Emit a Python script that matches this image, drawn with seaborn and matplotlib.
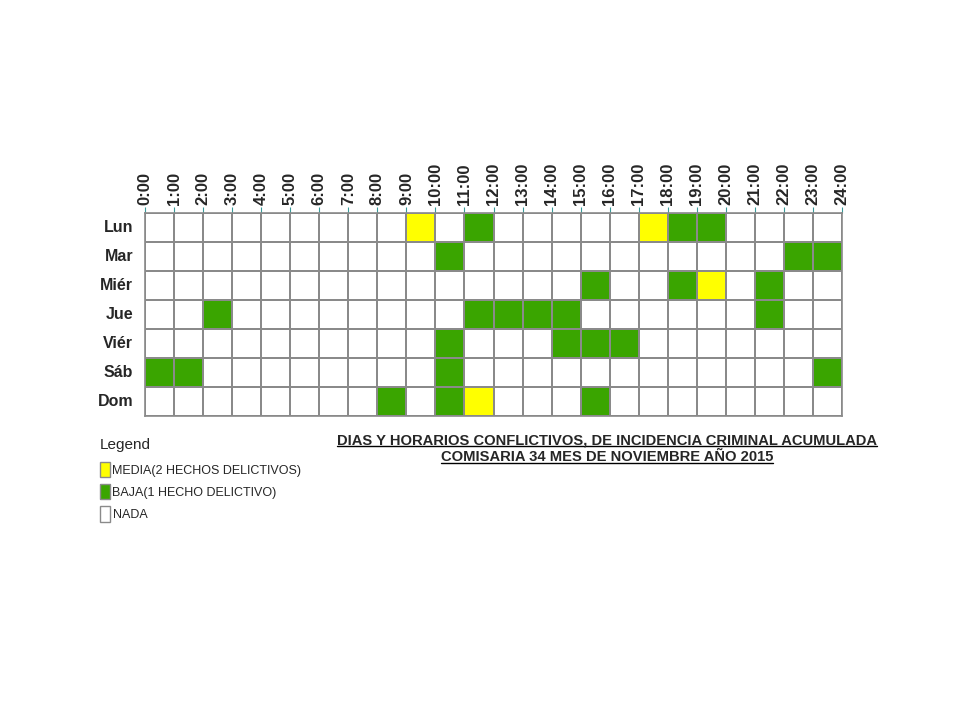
import numpy as np
import pandas as pd
import matplotlib
matplotlib.use("Agg")
import matplotlib.pyplot as plt
import seaborn as sns
from matplotlib.colors import ListedColormap
from matplotlib.patches import Patch
from matplotlib.lines import Line2D

days = ["Lun", "Mar", "Miér", "Jue", "Viér", "Sáb", "Dom"]
hour_labels = [f"{h}:00" for h in range(25)]
# incidents per (day, hour slot): 0 = nada, 1 = baja, 2 = media
lun  = [0,0,0,0,0,0,0,0,0,2,0,1,0,0,0,0,0,2,1,1,0,0,0,0]
mar  = [0,0,0,0,0,0,0,0,0,0,1,0,0,0,0,0,0,0,0,0,0,0,1,1]
mier = [0,0,0,0,0,0,0,0,0,0,0,0,0,0,0,1,0,0,1,2,0,1,0,0]
jue  = [0,0,1,0,0,0,0,0,0,0,0,1,1,1,1,0,0,0,0,0,0,1,0,0]
vier = [0,0,0,0,0,0,0,0,0,0,1,0,0,0,1,1,1,0,0,0,0,0,0,0]
sab  = [1,1,0,0,0,0,0,0,0,0,1,0,0,0,0,0,0,0,0,0,0,0,0,1]
dom  = [0,0,0,0,0,0,0,0,1,0,1,2,0,0,0,1,0,0,0,0,0,0,0,0]

legend_labels = ["MEDIA(2 HECHOS DELICTIVOS)", "BAJA(1 HECHO DELICTIVO)", "NADA"]
title_lines = ["DIAS Y HORARIOS CONFLICTIVOS, DE INCIDENCIA CRIMINAL ACUMULADA",
               "COMISARIA 34 MES DE NOVIEMBRE AÑO 2015"]

sns.set_theme(style="white")
plt.rcParams['font.family'] = ['Liberation Sans', 'DejaVu Sans']

data = pd.DataFrame([lun, mar, mier, jue, vier, sab, dom], index=days)

WHITE, GREEN, YELLOW = "#FFFFFF", "#3AA500", "#FFFF00"
cmap = ListedColormap([WHITE, GREEN, YELLOW])

fig = plt.figure(figsize=(9.6, 7.2), dpi=100)
ax = fig.add_axes([145/960, 1-416/720, (842-145)/960, (416-213)/720])
sns.heatmap(data, ax=ax, cmap=cmap, vmin=-0.5, vmax=2.5, cbar=False,
            linewidths=1.2, linecolor="#8a8a8a")

ax.set_xticks(np.arange(25))
ax.set_xticklabels(hour_labels, rotation=90, fontsize=12, fontweight="bold")
ax.xaxis.tick_top()
ax.tick_params(axis="x", which="both", length=4, width=0.8, color="#3a9a9a",
               pad=1.5, top=True, bottom=False)
ax.set_yticklabels(days, rotation=0, fontsize=11.5, fontweight="bold")
ax.tick_params(axis="y", length=0, pad=8.5)
ax.set_xlabel("")
ax.set_ylabel("")
for s in ax.spines.values():
    s.set_visible(True)
    s.set_color("#8a8a8a")
    s.set_linewidth(1.2)

# Legend
fig.text(100/960, 1-445/720, "Legend", fontsize=11, va="center", ha="left")
handles = [Patch(facecolor=YELLOW, edgecolor="#8a8a8a"),
           Patch(facecolor=GREEN, edgecolor="#8a8a8a"),
           Patch(facecolor=WHITE, edgecolor="#8a8a8a")]
leg = fig.legend(handles, legend_labels, loc="upper left",
                 bbox_to_anchor=(100/960, 1-462/720), frameon=False,
                 fontsize=9, handlelength=0.8, handleheight=1.5,
                 handletextpad=0.2, labelspacing=0.55, borderaxespad=0,
                 borderpad=0)

# Title with underline
t1 = fig.text(607/960, 1-440/720, title_lines[0], fontsize=10.6, fontweight="bold",
              ha="center", va="center")
t2 = fig.text(607/960, 1-457/720, title_lines[1], fontsize=10.6, fontweight="bold",
              ha="center", va="center")
fig.canvas.draw()
r = fig.canvas.get_renderer()
for t in (t1, t2):
    bb = t.get_window_extent(renderer=r)
    y = (bb.y0 + 1) / fig.bbox.height
    fig.add_artist(Line2D([bb.x0 / fig.bbox.width, bb.x1 / fig.bbox.width], [y, y],
                          color="black", linewidth=1.0, transform=fig.transFigure))

fig.savefig("out.png", dpi=100, facecolor="white")
